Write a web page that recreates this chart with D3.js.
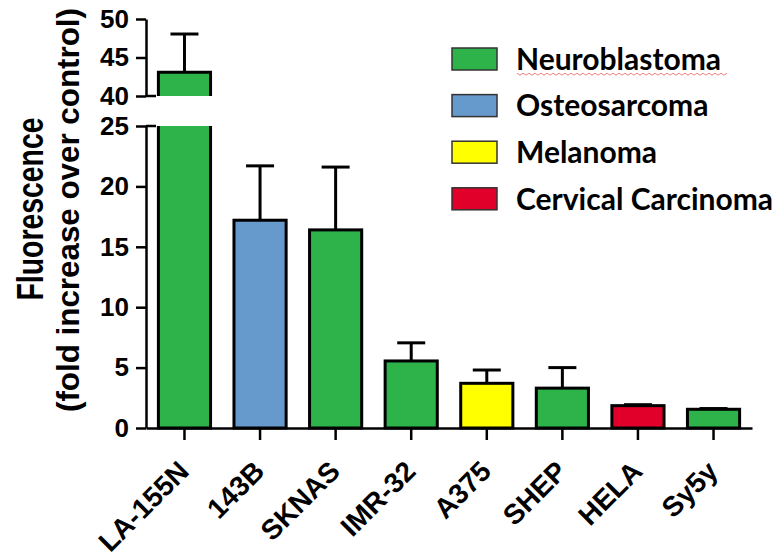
<!DOCTYPE html>
<html>
<head>
<meta charset="utf-8">
<script src="https://cdn.jsdelivr.net/npm/d3@7"></script>
<style>
  html, body { margin: 0; padding: 0; background: #fff; }
  svg { display: block; }
</style>
</head>
<body>
<div id="chart"></div>
<script>
const categories = ['LA-155N', '143B', 'SKNAS', 'IMR-32', 'A375', 'SHEP', 'HELA', 'Sy5y'];
const means = [43.1, 17.2, 16.4, 5.55, 3.7, 3.3, 1.85, 1.55];
const errors = [4.95, 4.5, 5.2, 1.5, 1.1, 1.7, 0.08, 0.06];
const cancerTypes = ['Neuroblastoma', 'Osteosarcoma', 'Neuroblastoma', 'Neuroblastoma', 'Melanoma', 'Neuroblastoma', 'Cervical Carcinoma', 'Neuroblastoma'];
const legendNames = ['Neuroblastoma', 'Osteosarcoma', 'Melanoma', 'Cervical Carcinoma'];
const legendColors = ['#2db34a', '#6699cc', '#ffff00', '#e0002a'];
const lowTicks = [0, 5, 10, 15, 20, 25];
const highTicks = [40, 45, 50];

const width = 778, height = 559;
const svg = d3.select('#chart').append('svg')
  .attr('width', width).attr('height', height)
  .attr('viewBox', `0 0 ${width} ${height}`);

const color = d3.scaleOrdinal().domain(legendNames).range(legendColors);

// broken y axis: lower segment 0-25, upper segment 40-50
const yLow = d3.scaleLinear().domain([0, 25]).range([428, 126]);
const yHigh = d3.scaleLinear().domain([40, 50]).range([96, 19]);
const y = v => v <= 25 ? yLow(v) : yHigh(v);

const x = d3.scaleBand().domain(categories).range([146, 752])
  .paddingInner(0.31).paddingOuter(0.164);

const axisFont = "'Liberation Sans', Arial, Helvetica, sans-serif";

// Bars
const bars = svg.append('g');
categories.forEach((c, i) => {
  const x0 = x(c), x1 = x0 + x.bandwidth();
  const fill = color(cancerTypes[i]);
  if (means[i] > 25) {
    // lower piece, open at the top
    bars.append('rect').attr('x', x0).attr('y', yLow(25)).attr('width', x.bandwidth())
      .attr('height', yLow(0) - yLow(25)).attr('fill', fill);
    bars.append('path')
      .attr('d', `M${x0},${yLow(25)}V${yLow(0)}H${x1}V${yLow(25)}`)
      .attr('fill', 'none').attr('stroke', '#000').attr('stroke-width', 3);
    // upper piece, open at the bottom
    bars.append('rect').attr('x', x0).attr('y', yHigh(means[i])).attr('width', x.bandwidth())
      .attr('height', yHigh(40) - yHigh(means[i])).attr('fill', fill);
    bars.append('path')
      .attr('d', `M${x0},${yHigh(40)}V${yHigh(means[i])}H${x1}V${yHigh(40)}`)
      .attr('fill', 'none').attr('stroke', '#000').attr('stroke-width', 3);
  } else {
    bars.append('rect').attr('x', x0).attr('y', y(means[i])).attr('width', x.bandwidth())
      .attr('height', y(0) - y(means[i])).attr('fill', fill)
      .attr('stroke', '#000').attr('stroke-width', 3);
  }
});

// Error bars (upper only)
const errG = svg.append('g').attr('stroke', '#000').attr('stroke-width', 3);
categories.forEach((c, i) => {
  const cx = x(c) + x.bandwidth() / 2;
  const top = y(means[i] + errors[i]);
  errG.append('line').attr('x1', cx).attr('x2', cx).attr('y1', y(means[i])).attr('y2', top);
  errG.append('line').attr('x1', cx - 14).attr('x2', cx + 14).attr('y1', top).attr('y2', top);
});

// Y axes
function styleAxis(g) {
  g.selectAll('path, line').attr('stroke', '#000').attr('stroke-width', 2.5);
  g.selectAll('text').attr('font-family', axisFont).attr('font-weight', 'bold')
    .attr('font-size', 26).attr('fill', '#000');
}
svg.append('g').attr('transform', 'translate(146,0)')
  .call(d3.axisLeft(yLow).tickValues(lowTicks).tickSize(10).tickSizeOuter(0).tickPadding(7))
  .call(styleAxis);
svg.append('g').attr('transform', 'translate(146,0)')
  .call(d3.axisLeft(yHigh).tickValues(highTicks).tickSize(10).tickSizeOuter(0).tickPadding(7))
  .call(styleAxis);

// small break marks on the inside at 25 and 40
[yLow(25), yHigh(40)].forEach(yy => {
  svg.append('line').attr('x1', 146).attr('x2', 156).attr('y1', yy).attr('y2', yy)
    .attr('stroke', '#000').attr('stroke-width', 2.5);
});

// X axis
const xAxis = svg.append('g').attr('transform', `translate(0,${yLow(0)})`)
  .call(d3.axisBottom(x).tickSize(12).tickSizeOuter(0))
  .call(styleAxis);
xAxis.selectAll('text')
  .attr('text-anchor', 'end')
  .attr('dy', null).attr('y', null)
  .attr('font-size', 28)
  .attr('transform', 'translate(6,45) rotate(-45)');

// Y axis title (first line is tall and condensed in the original)
const title = svg.append('g').attr('font-family', axisFont).attr('font-weight', 'bold')
  .attr('text-anchor', 'middle').attr('fill', '#000');
title.append('text').attr('transform', 'translate(43,209) rotate(-90)')
  .attr('font-size', 37).attr('textLength', 183).attr('lengthAdjust', 'spacingAndGlyphs')
  .text('Fluorescence');
title.append('text').attr('transform', 'translate(79,210) rotate(-90)')
  .attr('font-size', 31).attr('textLength', 404).attr('lengthAdjust', 'spacingAndGlyphs')
  .text('(fold increase over control)');

// Legend
const legend = svg.append('g').attr('font-family', "Lato, 'Open Sans', sans-serif");
legendNames.forEach((name, i) => {
  const row = legend.append('g').attr('transform', `translate(452,${59 + i * 46.6})`);
  row.append('rect').attr('x', 0).attr('y', -11).attr('width', 45).attr('height', 22)
    .attr('fill', legendColors[i]).attr('stroke', '#333').attr('stroke-width', 1.5);
  row.append('text').attr('x', 64).attr('y', 0).attr('dy', '0.36em')
    .attr('font-size', 30).attr('font-weight', 'bold').attr('fill', '#000').text(name);
});

// spell-check squiggle under the first legend entry
const sq = d3.range(0, 71).map(k => [517 + k * 3, 74 + (k % 2 ? 1.2 : -0.8)]);
svg.append('path').attr('d', d3.line()(sq)).attr('fill', 'none')
  .attr('stroke', '#f08080').attr('stroke-width', 1);
</script>
</body>
</html>
